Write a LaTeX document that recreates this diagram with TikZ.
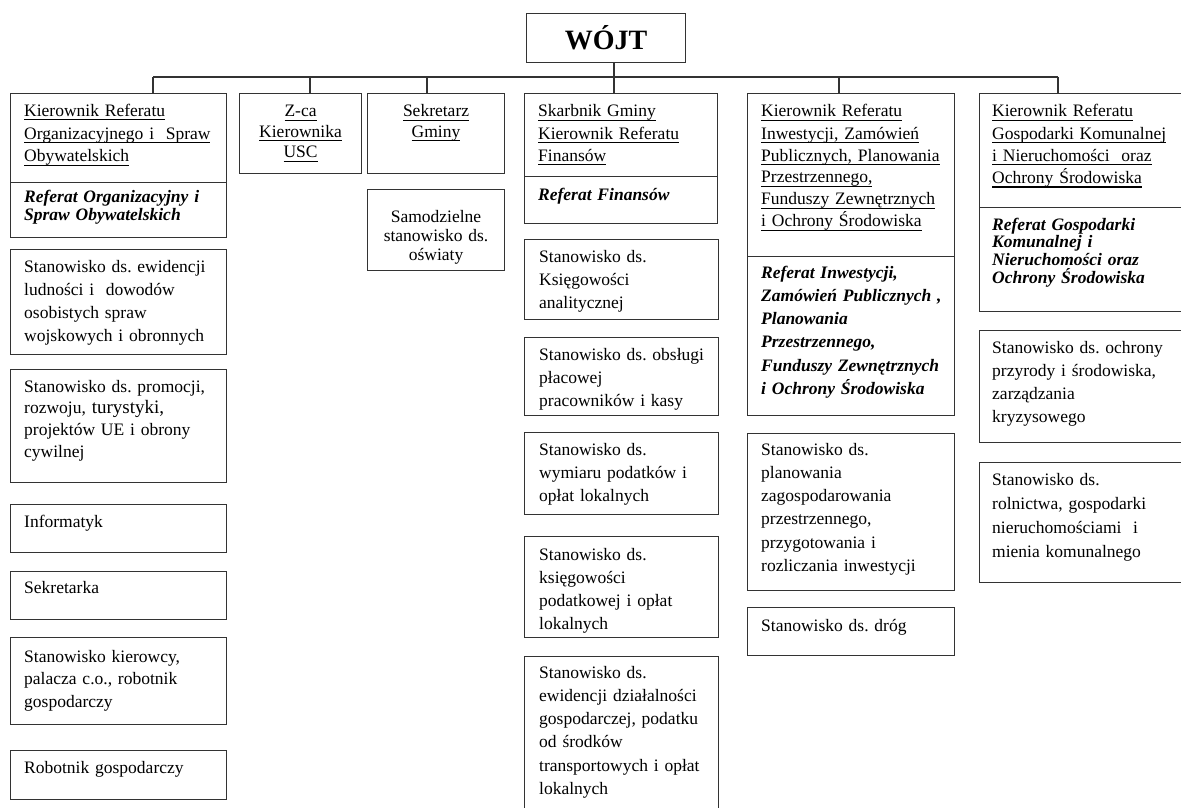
\documentclass[tikz,border=0pt]{standalone}
\usepackage{fontspec}
\setmainfont{Liberation Serif}
\frenchspacing
\newcommand{\ulin}[1]{\leavevmode\setbox0=\hbox{#1}\rlap{\vrule height -2.6pt depth 3.8pt width \wd0}\box0}
\begin{document}
\begin{tikzpicture}[x=1pt,y=-1pt,
  frame/.style={draw=black!80, line width=1.1pt, anchor=north west, inner sep=0pt},
  link/.style={draw=black!80, line width=1.1pt},
  txt/.style={anchor=base west, align=left, inner sep=0pt, text width=250pt, font=\fontsize{17.5}{#1}\selectfont},
  txt/.default=23.3,
  ctxt/.style={anchor=base, align=center, inner sep=0pt, text width=130pt, font=\fontsize{17.5}{#1}\selectfont},
  ctxt/.default=20.5,
  reftxt/.style={txt=#1, font=\fontsize{17.5}{#1}\selectfont\bfseries\itshape},
  reftxt/.default=18]
\useasboundingbox (0,0) rectangle (1181,808);
\clip (0,0) rectangle (1181,808);
%WÓJT
\node[frame, minimum width=159pt, minimum height=49pt, font=\fontsize{28}{30}\selectfont\bfseries] (wojt) at (526,13) {WÓJT};
%kierownicy
\node[frame, minimum width=216pt, minimum height=89pt] (kor) at (10,93) {};
\node[frame, minimum width=216pt, minimum height=55pt] (kor-ref) at (10,182) {};
\node[frame, minimum width=122pt, minimum height=80pt] (zca) at (239,93) {};
\node[frame, minimum width=137pt, minimum height=80pt] (sek) at (367,93) {};
\node[frame, minimum width=137pt, minimum height=81pt] (sam) at (367,189) {};
\node[frame, minimum width=193pt, minimum height=83pt] (skarb) at (524,93) {};
\node[frame, minimum width=193pt, minimum height=47pt] (skarb-ref) at (524,176) {};
\node[frame, minimum width=207pt, minimum height=163pt] (inw) at (747,93) {};
\node[frame, minimum width=207pt, minimum height=159pt] (inw-ref) at (747,256) {};
\node[frame, minimum width=215pt, minimum height=114pt] (gk) at (979,93) {};
\node[frame, minimum width=215pt, minimum height=104pt] (gk-ref) at (979,207) {};
\node[txt=23] (kor-t) at ([shift={(14,23)}]kor.north west)
  {\ulin{Kierownik Referatu}\\ \ulin{Organizacyjnego i\ \ Spraw}\\ \ulin{Obywatelskich}};
\node[reftxt=18] (kor-ref-t) at ([shift={(14,20)}]kor-ref.north west)
  {Referat Organizacyjny i\\ Spraw Obywatelskich};
\node[ctxt] (zca-t) at ([shift={(0,24)}]zca.north) {\ulin{Z-ca}\\ \ulin{Kierownika}\\ \ulin{USC}};
\node[ctxt] (sek-t) at ([shift={(0,24)}]sek.north) {\ulin{Sekretarz}\\ \ulin{Gminy}};
\node[ctxt=19] (sam-t) at ([shift={(0,33)}]sam.north) {Samodzielne\\ stanowisko ds.\\ oświaty};
\node[txt=22] (skarb-t) at ([shift={(14,24)}]skarb.north west)
  {\ulin{Skarbnik Gminy}\\ \ulin{Kierownik Referatu}\\ \ulin{Finansów}};
\node[reftxt] (skarb-ref-t) at ([shift={(14,24)}]skarb-ref.north west) {Referat Finansów};
\node[txt=22] (inw-t) at ([shift={(14,24)}]inw.north west)
  {\ulin{Kierownik Referatu}\\ \ulin{Inwestycji, Zamówień}\\ \ulin{Publicznych, Planowania}\\
   \ulin{Przestrzennego,}\\ \ulin{Funduszy Zewnętrznych}\\ \ulin{i Ochrony Środowiska}};
\node[reftxt=23.3] (inw-ref-t) at ([shift={(14,22)}]inw-ref.north west)
  {Referat Inwestycji,\\ Zamówień Publicznych ,\\ Planowania\\ Przestrzennego,\\
   Funduszy Zewnętrznych\\ i Ochrony Środowiska};
\node[txt=22.3] (gk-t) at ([shift={(13,24)}]gk.north west)
  {\ulin{Kierownik Referatu}\\ \ulin{Gospodarki Komunalnej}\\ \ulin{i Nieruchomości\ \ oraz}\\ \ulin{Ochrony Środowiska}};
\node[reftxt=17.7] (gk-ref-t) at ([shift={(13,23)}]gk-ref.north west)
  {Referat Gospodarki\\ Komunalnej i\\ Nieruchomości oraz\\ Ochrony Środowiska};
%szyna
\coordinate (b1) at (153,77);
\coordinate (b2) at (310,77);
\coordinate (b3) at (427,77);
\coordinate (b4) at (614,77);
\coordinate (b5) at (839,77);
\coordinate (b6) at (1058,77);
\draw[link] (b1) -- (b6);
\draw[link] (wojt.south -| b4) -- (b4);
\foreach \b/\t in {b1/kor, b2/zca, b3/sek, b4/skarb, b5/inw, b6/gk}
  \draw[link] (\b) -- (\b |- \t.north);
%stanowiska
\node[frame, minimum width=216pt, minimum height=105pt] (ewid) at (10,249) {};
\node[frame, minimum width=216pt, minimum height=113pt] (prom) at (10,369) {};
\node[frame, minimum width=216pt, minimum height=48pt] (inf) at (10,504) {};
\node[frame, minimum width=216pt, minimum height=48pt] (sekr) at (10,571) {};
\node[frame, minimum width=216pt, minimum height=87pt] (kier) at (10,637) {};
\node[frame, minimum width=216pt, minimum height=49pt] (rob) at (10,750) {};
\node[frame, minimum width=194pt, minimum height=80pt] (ksa) at (524,239) {};
\node[frame, minimum width=194pt, minimum height=78pt] (plac) at (524,337) {};
\node[frame, minimum width=194pt, minimum height=82pt] (wym) at (524,432) {};
\node[frame, minimum width=194pt, minimum height=101pt] (ksp) at (524,536) {};
\node[frame, minimum width=194pt, minimum height=170pt] (dzial) at (524,656) {};
\node[frame, minimum width=207pt, minimum height=157pt] (plan) at (747,433) {};
\node[frame, minimum width=207pt, minimum height=48pt] (drog) at (747,607) {};
\node[frame, minimum width=215pt, minimum height=112pt] (ochr) at (979,330) {};
\node[frame, minimum width=215pt, minimum height=120pt] (roln) at (979,462) {};
\node[txt] (ewid-t) at ([shift={(14,23)}]ewid.north west)
  {Stanowisko ds. ewidencji\\ ludności i\ \ dowodów\\ osobistych spraw\\ wojskowych i obronnych};
\node[txt=21.7] (prom-t) at ([shift={(14,23)}]prom.north west)
  {Stanowisko ds. promocji,\\ rozwoju, {\fontsize{19}{21.7}\selectfont turystyki,}\\ projektów UE i obrony\\ cywilnej};
\node[txt] (inf-t) at ([shift={(14,23)}]inf.north west) {Informatyk};
\node[txt] (sekr-t) at ([shift={(14,22)}]sekr.north west) {Sekretarka};
\node[txt=22.5] (kier-t) at ([shift={(14,25)}]kier.north west)
  {Stanowisko kierowcy,\\ palacza c.o., robotnik\\ gospodarczy};
\node[txt] (rob-t) at ([shift={(14,23)}]rob.north west) {Robotnik gospodarczy};
\node[txt] (ksa-t) at ([shift={(15,23)}]ksa.north west)
  {Stanowisko ds.\\ Księgowości\\ analitycznej};
\node[txt] (plac-t) at ([shift={(15,23)}]plac.north west)
  {Stanowisko ds. obsługi\\ płacowej\\ pracowników i kasy};
\node[txt] (wym-t) at ([shift={(15,23)}]wym.north west)
  {Stanowisko ds.\\ wymiaru podatków i\\ opłat lokalnych};
\node[txt] (ksp-t) at ([shift={(15,24)}]ksp.north west)
  {Stanowisko ds.\\ księgowości\\ podatkowej i opłat\\ lokalnych};
\node[txt] (dzial-t) at ([shift={(15,22)}]dzial.north west)
  {Stanowisko ds.\\ ewidencji działalności\\ gospodarczej, podatku\\ od środków\\ transportowych i opłat\\ lokalnych};
\node[txt] (plan-t) at ([shift={(14,22)}]plan.north west)
  {Stanowisko ds.\\ planowania\\ zagospodarowania\\ przestrzennego,\\ przygotowania i\\ rozliczania inwestycji};
\node[txt] (drog-t) at ([shift={(14,24)}]drog.north west) {Stanowisko ds. dróg};
\node[txt] (ochr-t) at ([shift={(13,23)}]ochr.north west)
  {Stanowisko ds. ochrony\\ przyrody i środowiska,\\ zarządzania\\ kryzysowego};
\node[txt=24] (roln-t) at ([shift={(13,23)}]roln.north west)
  {Stanowisko ds.\\ rolnictwa, gospodarki\\ nieruchomościami\ \ i\\ mienia komunalnego};
\end{tikzpicture}
\end{document}
